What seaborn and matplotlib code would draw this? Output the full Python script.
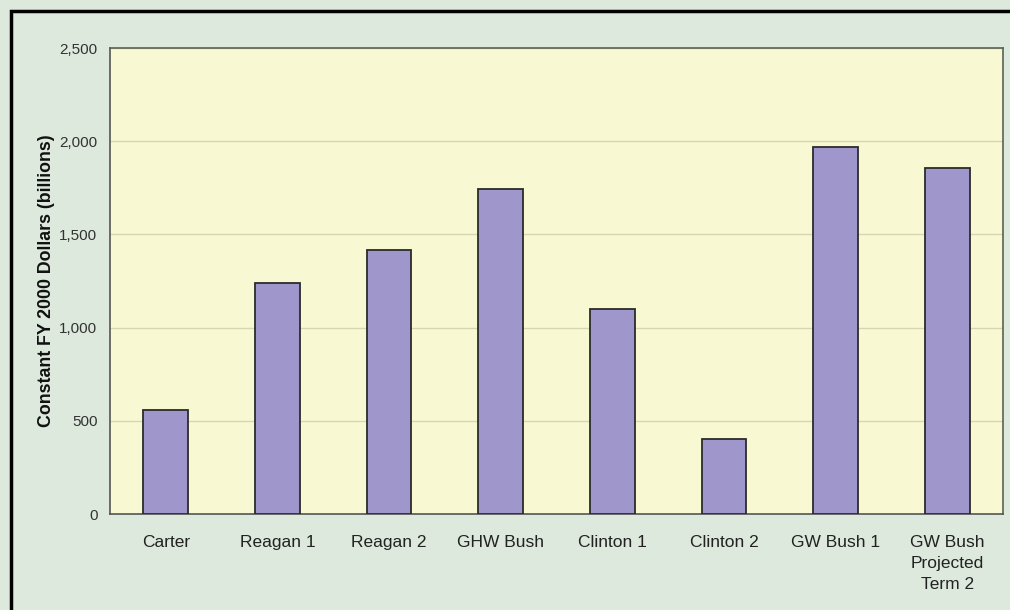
import pandas as pd
import numpy as np
import matplotlib
matplotlib.use("Agg")
import matplotlib.pyplot as plt
import seaborn as sns
from matplotlib.patches import Rectangle
from matplotlib.ticker import FuncFormatter

# Datos
terms = ["Carter", "Reagan 1", "Reagan 2", "GHW Bush", "Clinton 1",
         "Clinton 2", "GW Bush 1", "GW Bush\nProjected\nTerm 2"]
values = [560, 1240, 1415, 1745, 1100, 400, 1970, 1855]
y_ticks = [0, 500, 1000, 1500, 2000, 2500]

df = pd.DataFrame({"term": terms, "value": values})

sns.set_style("white")
plt.rcParams["font.family"] = ["Liberation Sans", "DejaVu Sans"]

fig = plt.figure(figsize=(10.1, 6.1), dpi=100)
fig.patch.set_facecolor("#dce9dc")
ax = fig.add_axes([110 / 1010, 96 / 610, 893 / 1010, 466 / 610])
ax.set_facecolor("#f8f8d2")

sns.barplot(data=df, x="term", y="value", color="#9f97cc", saturation=1,
            width=0.40, edgecolor="#2b2b2b", linewidth=1.3, ax=ax, zorder=3)

ax.set_ylim(0, 2500)
ax.set_xlim(-0.5, len(terms) - 0.5)
ax.set_yticks(y_ticks)
ax.yaxis.set_major_formatter(FuncFormatter(lambda v, p: f"{int(v):,}"))
ax.yaxis.grid(True, color="#d6d6b4", linewidth=1, zorder=0)
ax.set_axisbelow(True)

# ticks del eje x en los limites de categoria
ax.set_xticks(np.arange(len(terms)))
ax.set_xticklabels(terms, fontsize=12.5, color="#222222", linespacing=1.5)
ax.set_xticks(np.arange(len(terms) + 1) - 0.5, minor=True)
ax.tick_params(axis="x", which="major", length=0, pad=15)
ax.tick_params(axis="x", which="minor", length=5, color="#888888", direction="out")
ax.tick_params(axis="y", length=6, color="#888888", direction="out",
               labelsize=11, labelcolor="#333333", pad=3)

for s in ax.spines.values():
    s.set_visible(True)
    s.set_color("#5a6256")
    s.set_linewidth(1.2)
ax.spines["left"].set_color("#555555")
ax.spines["bottom"].set_color("#555555")

ax.set_xlabel("")
ax.set_ylabel("Constant FY 2000 Dollars (billions)", fontsize=12.8,
              fontweight="bold", color="#111111", labelpad=3)

# marco negro exterior
fig.patches.append(Rectangle((11 / 1010, -0.05), 1.2, 1.05 - 11 / 610,
                             transform=fig.transFigure, fill=False,
                             edgecolor="black", linewidth=2.5))

fig.savefig("out.png", dpi=100, facecolor=fig.get_facecolor())
